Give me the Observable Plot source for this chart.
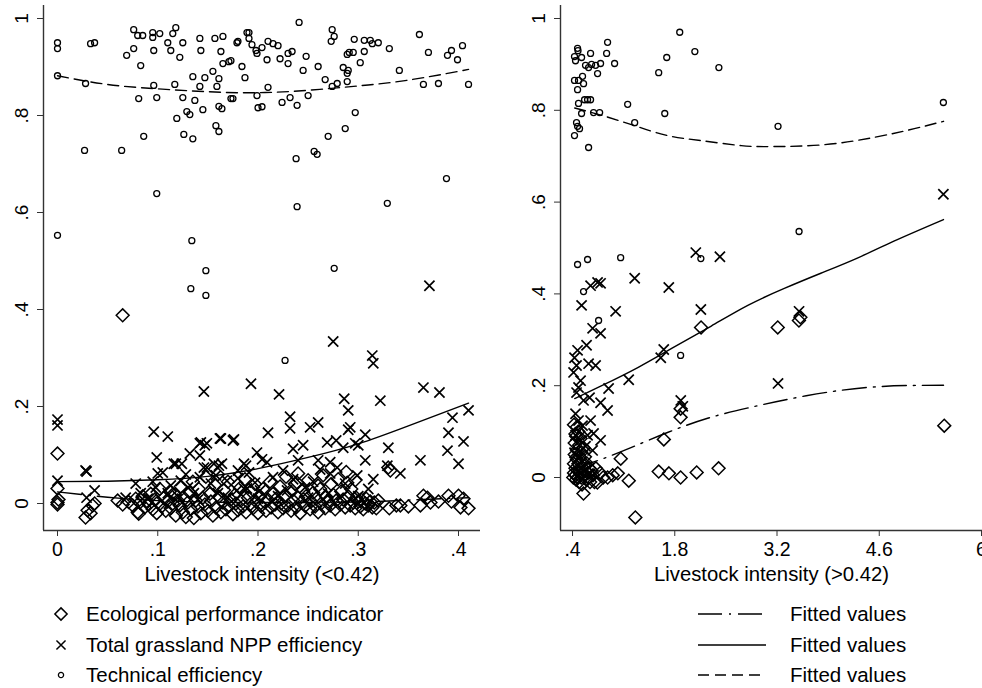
<!DOCTYPE html>
<html><head><meta charset="utf-8">
<script src="https://cdn.jsdelivr.net/npm/d3@7"></script>
<script src="https://cdn.jsdelivr.net/npm/@observablehq/plot@0.6"></script>
<style>
body{margin:0;background:#fff;}
#wrap{position:relative;width:982px;height:688px;overflow:hidden;font-family:"Liberation Sans",Arial,sans-serif;}
#left,#right,#legend{position:absolute;top:0;}
#left{left:0;} #right{left:517px;} #legend{left:0;top:595px;}
svg{overflow:visible;}
</style></head>
<body><div id="wrap"><div id="left"></div><div id="right"></div><div id="legend"></div></div>
<script>
// ---------- Left panel (livestock intensity < 0.42) ----------
const leftXTicks = [0, 0.1, 0.2, 0.3, 0.4];
const yTicks = [0, 0.2, 0.4, 0.6, 0.8, 1];
const leftTE = [
[0,.950],[0,.938],[0,.882],[0,.553],[.027,.728],[.028,.866],[.033,.948],[.037,.950],[.064,.728],[.069,.924],[.076,.938],[.076,.977],[.080,.965],[.085,.965],[.083,.903],[.081,.835],[.086,.757],[.095,.971],[.095,.961],[.096,.934],[.096,.862],[.099,.837],[.099,.639],[.102,.969],[.110,.950],[.113,.934],[.115,.969],[.118,.981],[.122,.920],[.125,.950],[.117,.864],[.125,.837],[.119,.794],[.126,.761],[.129,.808],[.132,.802],[.135,.752],[.135,.880],[.137,.831],[.142,.959],[.143,.934],[.142,.860],[.145,.812],[.147,.878],[.155,.891],[.157,.959],[.165,.963],[.163,.932],[.165,.907],[.171,.911],[.159,.860],[.161,.876],[.161,.819],[.164,.814],[.158,.779],[.161,.767],[.173,.835],[.179,.950],[.184,.901],[.187,.878],[.189,.971],[.134,.542],[.148,.480],[.133,.443],[.148,.429],[.173,.913],
[.241,.992],[.274,.977],[.276,.963],[.273,.953],[.191,.971],[.180,.953],[.191,.959],[.194,.946],[.198,.934],[.199,.928],[.204,.940],[.210,.953],[.215,.948],[.220,.944],[.209,.915],[.175,.835],[.222,.917],[.230,.928],[.234,.932],[.230,.907],[.248,.922],[.245,.893],[.260,.901],[.210,.858],[.199,.841],[.200,.816],[.204,.818],[.224,.827],[.232,.837],[.239,.821],[.250,.841],[.267,.874],[.274,.860],[.279,.866],[.289,.870],[.289,.926],[.291,.930],[.295,.930],[.285,.899],[.290,.893],[.289,.887],[.296,.957],[.302,.909],[.306,.932],[.306,.955],[.312,.955],[.314,.948],[.320,.950],[.331,.938],[.341,.893],[.361,.967],[.370,.930],[.365,.864],[.380,.866],[.389,.924],[.393,.934],[.399,.915],[.404,.944],[.410,.864],[.297,.806],[.287,.773],[.270,.757],[.256,.726],[.259,.720],[.238,.711],[.388,.670],[.239,.612],[.329,.619],[.276,.485],[.227,.295]
];
const leftNPP = [
[0,.173],[0,.161],[0,.047],[.029,.066],[.037,.027],[.029,.012],[.096,.148],[.110,.138],[.099,.095],[.105,.064],[.146,.231],[.142,.124],[.149,.124],[.162,.134],[.175,.130],[.118,.082],[.124,.082],[.132,.103],[.142,.099],[.149,.074],[.161,.078],[.164,.082],[.188,.078],[.078,.041],[.098,.033],[.113,.037],[.123,.047],[.130,.033],[.142,.054],[.153,.041],[.169,.047],[.189,.031],[.083,.021],[.068,.012],[.110,.021],[.136,.021],[.160,.021],[.179,.027],
[.371,.449],[.275,.334],[.314,.305],[.315,.289],[.193,.247],[.221,.225],[.365,.239],[.381,.229],[.286,.216],[.322,.212],[.290,.192],[.394,.177],[.232,.179],[.232,.155],[.252,.157],[.260,.167],[.210,.146],[.176,.132],[.290,.152],[.292,.157],[.390,.146],[.410,.192],[.405,.128],[.307,.142],[.269,.126],[.278,.130],[.235,.113],[.245,.120],[.199,.105],[.285,.115],[.297,.124],[.330,.115],[.389,.109],[.204,.091],[.186,.082],[.240,.089],[.260,.089],[.272,.085],[.307,.089],[.362,.089],[.400,.082],[.342,.062],[.329,.078],[.272,.062],[.279,.074],[.299,.058],[.262,.070],[.225,.068],[.215,.054],[.191,.064],[.209,.085],[.180,.052],[.197,.043],[.229,.027],[.202,.027],[.247,.033],[.287,.041],[.186,.031],[.300,.120],
[.143,.126],[.147,.120],[.163,.134],[.116,.082],[.156,.082],[.028,.068],[.100,.062],[.146,.074],[.180,.068],
[.090,.010],[.120,.015],[.140,.008],[.170,.012],[.200,.010],[.220,.015],[.250,.012],[.270,.020],[.300,.015],[.310,.030],[.255,.045],[.235,.050],[.315,.050],[.095,.045],[.128,.060],[.158,.058]
];
const leftEPI = [
[.071,.003],[.075,-.004],[.078,.010],[.080,-.018],[.082,.002],[.085,.015],[.087,-.008],[.089,.005],[.091,-.002],[.093,.020],[.095,-.012],[.097,.008],[.099,-.020],[.100,.002],[.102,.030],[.104,-.006],[.106,.012],[.108,-.015],[.110,.004],[.112,.025],[.113,-.010],[.115,.000],[.117,.018],[.118,-.025],[.120,.006],[.122,-.004],[.123,.035],[.125,-.018],[.127,.010],[.128,-.028],[.130,.002],[.132,.022],[.133,-.012],[.135,.045],[.136,-.030],[.138,.006],[.140,-.006],[.141,.030],[.143,-.020],[.145,.012],[.147,-.002],[.148,.055],[.150,-.015],[.152,.020],[.153,.004],[.155,-.025],[.157,.038],[.158,-.008],[.160,.060],[.161,.014],[.163,-.018],[.165,.002],[.166,.028],[.168,-.012],[.170,.045],[.171,-.004],[.173,.008],[.175,-.022],[.177,.018],[.178,.000],[.180,-.014],[.182,.032],[.183,.006],[.185,-.006],[.187,.050],[.188,-.018],[.190,.012],[.192,-.002],[.193,.025],[.195,-.010],[.197,.040],[.198,.004],[.200,-.020],[.202,.015],[.203,-.005],[.205,.030],[.207,.002],[.208,-.015],[.210,.008],[.212,.045],[.213,-.008],[.215,.020],[.217,-.002],[.218,.010],[.220,-.018],[.222,.035],[.223,.000],[.225,-.010],[.227,.015],[.228,.055],[.230,-.004],[.232,.025],[.233,-.015],[.235,.006],[.237,.040],[.238,-.008],[.240,.012],[.242,-.020],[.243,.002],[.245,.028],[.247,-.005],[.248,.015],[.250,.048],[.252,-.012],[.253,.004],[.255,.022],[.257,-.006],[.258,.010],[.260,-.018],[.262,.030],[.263,.000],[.265,.058],[.267,-.010],[.268,.014],[.270,.004],[.272,-.004],[.273,.040],[.275,.018],[.277,-.012],[.278,.006],[.280,.050],[.282,-.002],[.283,.025],[.285,.008],[.287,-.008],[.288,.065],[.290,.015],[.292,-.004],[.293,.030],[.295,.002],[.297,-.010],[.298,.012],[.300,.004],[.302,-.006],[.303,.008],[.305,-.012],[.307,.000],[.308,.010],[.310,-.004],[.312,.004],[.314,-.008],[.316,.002],[.318,-.010],[.320,.006],
[.330,.074],[.332,.068],[.331,-.010],[.338,-.004],[.342,-.004],[.350,-.006],[.362,-.004],[.365,.016],[.369,.012],[.372,.002],[.380,.004],[.390,.016],[.393,.004],[.400,.016],[.402,-.008],[.405,.010],[.410,-.010],
[.065,.388],[0,.103],[0,.031],[0,.002],[0,-.002],[.001,.008],[.028,-.029],[.030,-.014],[.033,-.020],[.035,-.004],[.037,.000],[.060,.006],[.065,-.002],[.081,-.021],[.240,.062],[.239,.043],[.260,.037],[.289,.043],[.297,.048]
];
const leftFitX   = [0, .05, .1, .15, .2, .25, .3, .35, .41];
const leftFitEPI = [.024, .013, .006, .003, .002, .002, .003, .007, .012];
const leftFitNPP = [.045, .046, .049, .056, .072, .095, .123, .160, .207];
const leftFitTE  = [.882, .864, .855, .849, .847, .852, .861, .873, .895];

// ---------- Right panel (livestock intensity > 0.42) ----------
const rightXTicks = [0.4, 1.8, 3.2, 4.6, 6];
const rightTE = [
[.469,.935],[.475,.930],[.427,.917],[.441,.908],[.524,.915],[.647,.924],[.578,.898],[.620,.893],[.661,.900],[.716,.898],[.784,.902],[.867,.924],[.880,.948],[.976,.902],[.743,.880],[.427,.865],[.482,.865],[.537,.874],[.551,.858],[.469,.845],[.482,.815],[.565,.823],[.606,.823],[.647,.823],[.524,.793],[.688,.795],[.771,.795],[.455,.773],[.469,.765],[.496,.760],[.427,.745],[.620,.719],[1.155,.813],[1.251,.773],[1.58,.882],[1.69,.915],[1.868,.970],[2.075,.928],[1.663,.793],[2.404,.893],[.469,.464],[.606,.475],[1.059,.479],[.551,.405],[2.157,.477],[3.214,.765],[5.478,.817],[3.502,.536],[.757,.342],[1.88,.266]
];
const rightNPP = [
[2.088,.490],[2.418,.481],[.743,.425],[.784,.423],[.647,.418],[1.251,.434],[1.718,.414],[.524,.375],[.990,.362],[2.157,.366],[.675,.325],[.784,.314],[.469,.277],[.592,.288],[.455,.244],[.620,.248],[.716,.244],[.510,.211],[.482,.196],[.894,.194],[1.169,.213],[1.608,.261],[1.649,.279],[.633,.174],[.784,.163],[.880,.146],[1.882,.168],[1.910,.155],[.441,.139],[.482,.124],[.647,.124],[.784,.081],[.688,.096],[.606,.092],[.537,.113],[.441,.092],[.510,.081],[3.502,.362],[3.214,.205],[5.478,.617],[.414,.229],[.427,.261],[.455,.185],[.551,.168],[.578,.068],[.427,.054],[.480,.041],[.675,.059]
];
const rightEPI = [
[.41,.000],[.42,.010],[.42,.030],[.43,.050],[.43,.075],[.44,.005],[.44,.020],[.45,.090],[.45,-.005],[.46,.040],[.46,.060],[.47,.015],[.47,.000],[.48,.100],[.48,.030],[.49,.070],[.49,-.010],[.50,.045],[.50,.010],[.51,.020],[.51,.085],[.52,.000],[.52,.055],[.53,.035],[.53,-.015],[.54,.010],[.55,-.035],[.55,.065],[.56,.025],[.57,.005],[.57,.045],[.58,.015],[.59,-.005],[.60,.030],[.61,.010],[.62,.000],[.63,.020],[.64,-.010],[.66,.015],[.68,.005],[.70,-.010],[.72,.020],[.74,-.011],[.78,.010],[.82,.000],[.88,.000],[.95,.005],[1.02,.009],[1.06,.041],[1.17,-.007],[1.26,-.087],[1.58,.013],[1.65,.083],[1.72,.009],[1.88,.000],[1.88,.131],[1.88,.150],[2.10,.011],[2.16,.327],[2.40,.020],[3.21,.327],[3.50,.342],[3.52,.349],[5.49,.113],[.42,.115],[.44,.095],[.46,.110]
];
const rightFitEPIx = [.43, .8, 1.2, 1.7, 2.25, 2.84, 3.6, 4.5, 5.48];
const rightFitEPI  = [.020, .040, .065, .098, .129, .153, .178, .197, .201];
const rightFitNPPx = [.43, .8, 1.3, 1.8, 2.3, 2.8, 3.3, 3.8, 4.3, 4.8, 5.48];
const rightFitNPP  = [.172, .200, .240, .285, .330, .375, .412, .445, .478, .515, .562];
const rightFitTEx  = [.43, .8, 1.24, 1.7, 2.16, 2.71, 3.16, 3.84, 4.53, 5.08, 5.48];
const rightFitTE   = [.805, .789, .767, .745, .734, .723, .721, .725, .741, .760, .776];

const legendLeft = ["Ecological performance indicator", "Total grassland NPP efficiency", "Technical efficiency"];
const legendRight = ["Fitted values", "Fitted values", "Fitted values"];

// ---------- drawing ----------
const fmt = d => d === 0 ? "0" : String(+d.toFixed(2)).replace(/^0\./, ".").replace(/^-0\./, "-.");
const DASHDOT = "24,7,2,7", DASH = "11,6";
const INK = "#000", AXIS = "#333";
const FONT = "'Liberation Sans', Arial, sans-serif";

function panel({width, marginRight, xDomain, yDomain, xTicks, label, te, npp, epi, fits}) {
  const pts = a => a.map(([x, y]) => ({x, y}));
  const line = (xs, ys) => xs.map((x, i) => ({x, y: ys[i]}));
  return Plot.plot({
    width, height: 595,
    marginLeft: 43, marginRight, marginTop: 5, marginBottom: 65,
    style: {fontFamily: FONT, fontSize: "19px", color: INK, background: "#fff", overflow: "visible"},
    x: {domain: xDomain},
    y: {domain: yDomain},
    marks: [
      Plot.ruleX([xDomain[0]], {stroke: AXIS, strokeWidth: 1.4}),
      Plot.ruleY([yDomain[0]], {stroke: AXIS, strokeWidth: 1.4}),
      Plot.axisX({ticks: xTicks, tickFormat: fmt, tickSize: 6, tickPadding: 6, label: null, stroke: AXIS, fill: INK, fontSize: 19.5}),
      Plot.axisY({ticks: yTicks, tickFormat: fmt, tickSize: 6, tickPadding: 10, tickRotate: -90, textAnchor: "middle", lineAnchor: "bottom", label: null, stroke: AXIS, fill: INK, fontSize: 19}),
      Plot.text([label], {frameAnchor: "bottom", dy: 44, fontSize: 20.3, fill: INK, lineAnchor: "middle"}),
      Plot.dot(pts(epi), {x: "x", y: "y", symbol: "diamond2", r: 5.8, stroke: INK, strokeWidth: 1.5, fill: "none"}),
      Plot.dot(pts(npp), {x: "x", y: "y", symbol: "times", r: 4.7, stroke: INK, strokeWidth: 1.7}),
      Plot.dot(pts(te), {x: "x", y: "y", symbol: "circle", r: 3, stroke: INK, strokeWidth: 1.3, fill: "none"}),
      Plot.line(line(fits.epiX, fits.epi), {x: "x", y: "y", stroke: INK, strokeWidth: 1.4, strokeDasharray: DASHDOT, curve: "natural"}),
      Plot.line(line(fits.nppX, fits.npp), {x: "x", y: "y", stroke: INK, strokeWidth: 1.4, curve: "natural"}),
      Plot.line(line(fits.teX, fits.te), {x: "x", y: "y", stroke: INK, strokeWidth: 1.4, strokeDasharray: DASH, curve: "natural"})
    ]
  });
}

document.getElementById("left").append(panel({
  width: 490, marginRight: 10,
  xDomain: [-14 / 1002.5, 0.4 + 22 / 1002.5],
  yDomain: [-27 / 485, 1 + 13 / 485],
  xTicks: leftXTicks, label: "Livestock intensity (<0.42)",
  te: leftTE, npp: leftNPP, epi: leftEPI,
  fits: {epiX: leftFitX, epi: leftFitEPI, nppX: leftFitX, npp: leftFitNPP, teX: leftFitX, te: leftFitTE}
}));

document.getElementById("right").append(panel({
  width: 465, marginRight: 0,
  xDomain: [0.4 - 12 / 72.86, 6 + 1 / 72.86],
  yDomain: [-53 / 459, 1 + 13 / 459],
  xTicks: rightXTicks, label: "Livestock intensity (>0.42)",
  te: rightTE, npp: rightNPP, epi: rightEPI,
  fits: {epiX: rightFitEPIx, epi: rightFitEPI, nppX: rightFitNPPx, npp: rightFitNPP, teX: rightFitTEx, te: rightFitTE}
}));

// ---------- legend (below the plots) ----------
const lg = d3.select("#legend").append("svg").attr("width", 982).attr("height", 93)
  .style("font-family", FONT).style("font-size", "20.5px");
const rowY = [19, 50, 80];
const sym = ["diamond2", "times", "circle"];
const symR = [5.5, 4.2, 3];
legendLeft.forEach((t, i) => {
  const g = lg.append("g").attr("transform", `translate(61,${rowY[i]})`);
  if (sym[i] === "circle") g.append("circle").attr("r", 2.6).attr("fill", "none").attr("stroke", INK).attr("stroke-width", 1.3);
  else g.append("path").attr("d", d3.symbol(sym[i] === "times" ? d3.symbolTimes : d3.symbolDiamond2, Math.PI * symR[i] ** 2)())
      .attr("fill", "none").attr("stroke", INK).attr("stroke-width", 1.5);
  lg.append("text").attr("x", 86).attr("y", rowY[i]).attr("dy", "0.35em").text(t);
});
const dashes = [DASHDOT, null, DASH];
legendRight.forEach((t, i) => {
  lg.append("line").attr("x1", 698).attr("x2", 766).attr("y1", rowY[i]).attr("y2", rowY[i])
    .attr("stroke", INK).attr("stroke-width", 1.4).attr("stroke-dasharray", dashes[i]);
  lg.append("text").attr("x", 790).attr("y", rowY[i]).attr("dy", "0.35em").text(t);
});
</script></body></html>
